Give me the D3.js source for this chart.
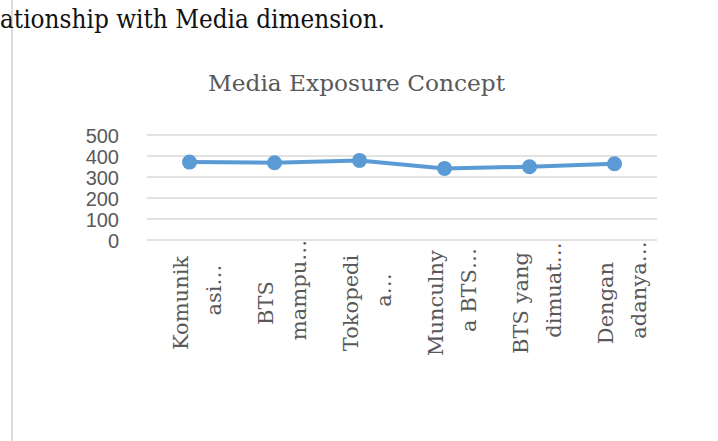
<!DOCTYPE html>
<html><head><meta charset="utf-8">
<script src="https://cdn.jsdelivr.net/npm/d3@7"></script>
<style>body{margin:0;background:#fff;}svg{display:block;}</style>
</head><body>
<svg id="c" width="718" height="441"></svg>
<script>
const categories = ["c1","c2","c3","c4","c5","c6"];
const labelLines = [["Komunik","asi…"],["BTS","mampu…"],["Tokopedi","a…"],["Munculny","a BTS…"],["BTS yang","dimuat…"],["Dengan","adanya…"]];
const values = [371, 368, 379, 341, 349, 363];
const yTicks = [0, 100, 200, 300, 400, 500];
const title = "Media Exposure Concept";
const heading = "ationship with Media dimension.";

const svg = d3.select("#c");
svg.append("line").attr("x1",12).attr("x2",12).attr("y1",0).attr("y2",441)
  .attr("stroke","#dcdcdc").attr("stroke-width",2);
svg.append("text").attr("x",0).attr("y",28).text(heading)
  .attr("font-family","DejaVu Serif, serif").attr("font-size",26).attr("fill","#111")
  .attr("textLength",385).attr("lengthAdjust","spacingAndGlyphs");

svg.append("text").attr("x",208).attr("y",91).text(title)
  .attr("font-family","DejaVu Serif, serif").attr("font-size",23).attr("fill","#595959")
  .attr("textLength",297).attr("lengthAdjust","spacingAndGlyphs");

const x = d3.scaleBand().domain(categories).range([147,657]);
const y = d3.scaleLinear().domain([0,500]).range([240,135]);

const g = svg.append("g");
g.selectAll("line.grid").data(yTicks).join("line").attr("class","grid")
  .attr("x1",147).attr("x2",657).attr("y1",d=>y(d)).attr("y2",d=>y(d))
  .attr("stroke","#d9d9d9").attr("stroke-width",1.5);

const yAxis = d3.axisLeft(y).tickValues(yTicks).tickSize(0).tickPadding(0);
const ya = svg.append("g").attr("transform","translate(119,0)").call(yAxis);
ya.select(".domain").remove();
ya.selectAll("text").attr("font-family","Liberation Sans, Arial, sans-serif")
  .attr("font-size",20).attr("fill","#595959").attr("dy","0.36em");

const xg = svg.append("g");
const lineCenters = [303, 290];
categories.forEach((c,i)=>{
  const cx = x(c) + x.bandwidth()/2;
  labelLines[i].forEach((t,j)=>{
    const lx = cx - 2 + j*33;
    xg.append("text").attr("transform",`translate(${lx},${lineCenters[j]}) rotate(-90)`)
      .attr("text-anchor","middle")
      .attr("font-family","DejaVu Serif, serif").attr("font-size",21)
      .attr("fill","#595959").text(t);
  });
});

const line = d3.line().x((d,i)=>x(categories[i])+x.bandwidth()/2).y(d=>y(d));
svg.append("path").datum(values).attr("d",line).attr("fill","none")
  .attr("stroke","#5b9bd5").attr("stroke-width",4).attr("stroke-linejoin","round");
svg.selectAll("circle.pt").data(values).join("circle").attr("class","pt")
  .attr("cx",(d,i)=>x(categories[i])+x.bandwidth()/2).attr("cy",d=>y(d)).attr("r",7.5)
  .attr("fill","#5b9bd5");
</script>
</body></html>
